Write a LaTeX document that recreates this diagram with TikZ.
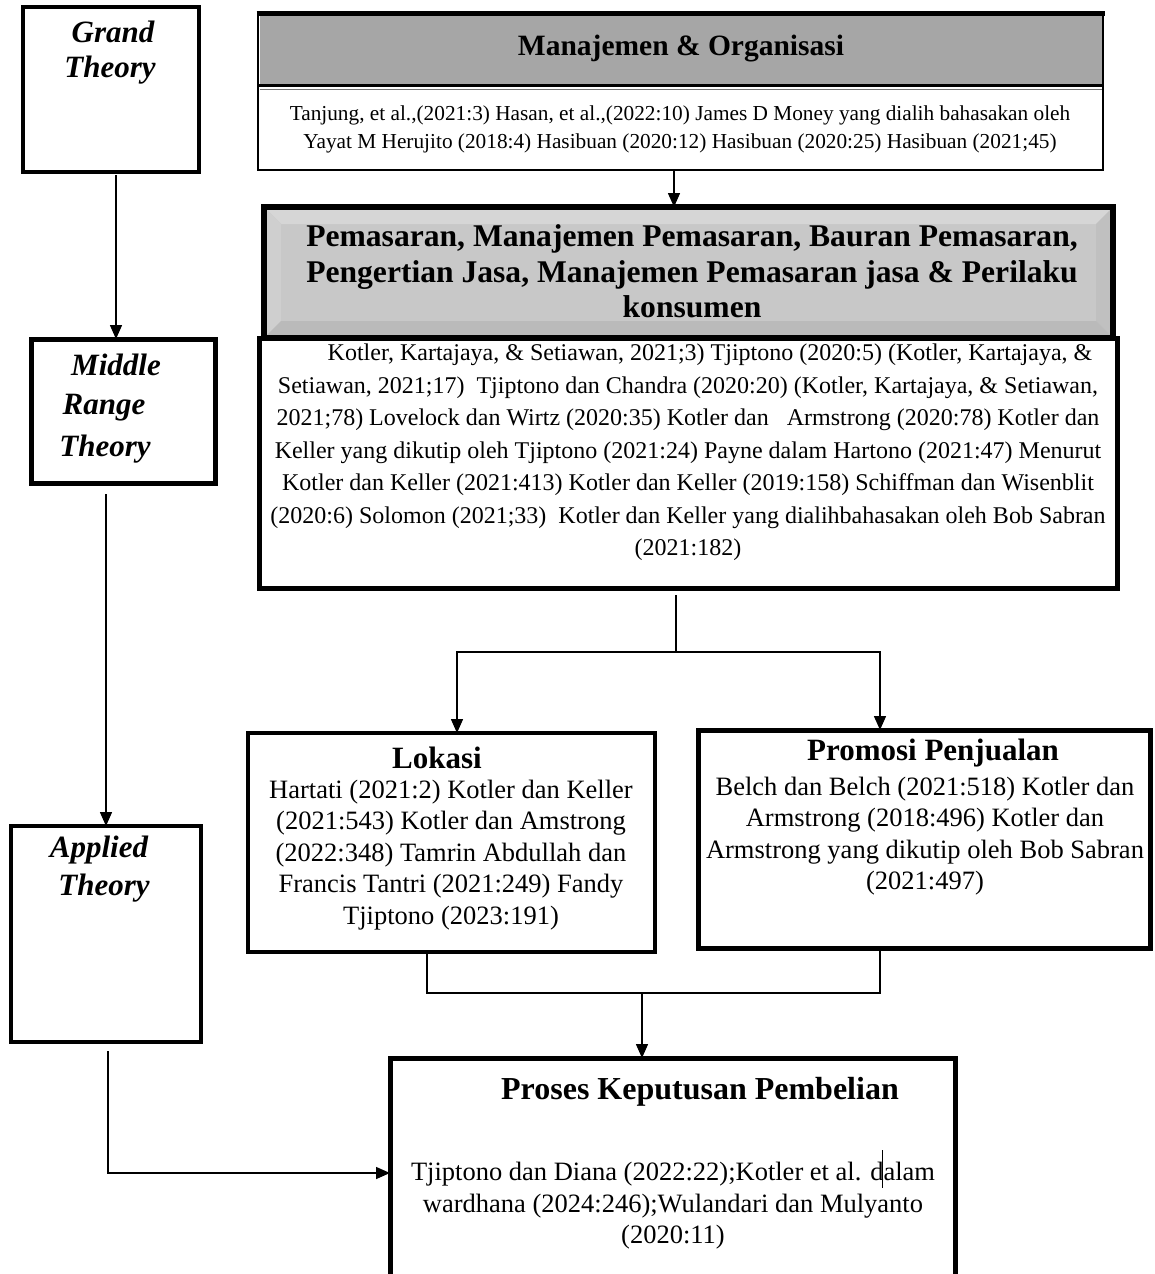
\documentclass[tikz,border=0pt]{standalone}
\usepackage{fontspec}
\setmainfont{Liberation Serif}
\usetikzlibrary{arrows.meta,calc}
\definecolor{bandgray}{HTML}{A6A6A6}
\definecolor{bevmid}{HTML}{C8C8C8}
\definecolor{bevtop}{HTML}{D6D6D6}
\definecolor{bevleft}{HTML}{CFCFCF}
\definecolor{bevright}{HTML}{C0C0C0}
\definecolor{bevbot}{HTML}{BABABA}
\begin{document}
\begin{tikzpicture}[x=1pt,y=-1pt,
  box/.style={draw, inner sep=0pt, outer sep=0pt, fill=white},
  conn/.style={line width=1.5pt},
  arr/.style={conn, -{Triangle[length=14pt,width=12pt]}},
  ttl/.style={font=\fontsize{31}{36}\selectfont\bfseries\itshape, inner sep=0pt},
  head/.style={font=\fontsize{31}{35.5}\selectfont\bfseries, inner sep=0pt, align=center},
  body/.style={font=\fontsize{26.5}{31.5}\selectfont, inner sep=0pt, align=center},
]
\useasboundingbox (0,0) rectangle (1155,1274);
\clip (0,0) rectangle (1155,1274);
\fill[white] (0,0) rectangle (1155,1274);

% ---------- left column ----------
\node[box, line width=4pt, minimum width=176pt, minimum height=165pt] (grand) at (111,89.5) {};
\node[ttl] (tg1) at (113,32) {Grand};
\node[ttl] (tg2) at (110,70) {Theory};

\node[box, line width=5pt, minimum width=184pt, minimum height=144pt] (midr) at (123,411) {};
\node[ttl] (tm1) at (116,365) {Middle};
\node[ttl] (tm2) at (104,408) {Range};
\node[ttl] (tm3) at (105,449) {Theory};

\node[box, line width=4pt, minimum width=190pt, minimum height=216pt] (appl) at (106,934) {};
\node[ttl] (ta1) at (99,850) {Applied};
\node[ttl] (ta2) at (104,888) {Theory};

% ---------- top box ----------
\node[box, line width=2.5pt, minimum width=845pt, minimum height=158pt] (manaj) at (680.5,91) {};
\fill[bandgray] (259.5,14) rectangle (1101.5,85);
\draw[line width=5pt] (256.5,13) -- (1104.5,13);
\draw[line width=2.5pt] (258,85.5) -- (1103,85.5);
\draw[line width=1.5pt, black!55] (259.5,89.5) -- (1101.5,89.5);
\node[head, font=\fontsize{29.5}{34}\selectfont\bfseries] (tmanajh) at (681,49) {Manajemen \& Organisasi};
\node[body, font=\fontsize{21.3}{28}\selectfont] (tmanajb) at (680,129)
  {Tanjung, et al.,(2021:3) Hasan, et al.,(2022:10) James D Money yang dialih bahasakan oleh\\
   Yayat M Herujito (2018:4) Hasibuan (2020:12) Hasibuan (2020:25) Hasibuan (2021;45)};

% ---------- second header ----------
\node[box, line width=6pt, fill=bevmid, minimum width=849pt, minimum height=131pt] (pemhead) at (688.5,272.5) {};
\fill[bevtop]   (267,210) -- (1110,210) -- (1096,224) -- (281,224) -- cycle;
\fill[bevleft]  (267,210) -- (281,224) -- (281,321) -- (267,335) -- cycle;
\fill[bevright] (1110,210) -- (1096,224) -- (1096,321) -- (1110,335) -- cycle;
\fill[bevbot]   (267,335) -- (281,321) -- (1096,321) -- (1110,335) -- cycle;
\draw[line width=6pt] (pemhead.north west) rectangle (pemhead.south east);
\node[head, font=\fontsize{31.6}{35.5}\selectfont\bfseries] (tpemh) at (692,271.5)
  {Pemasaran, Manajemen Pemasaran, Bauran Pemasaran,\\
   Pengertian Jasa, Manajemen Pemasaran jasa \& Perilaku\\
   konsumen};

\node[box, line width=5pt, minimum width=858pt, minimum height=250pt] (pembody) at (688,463) {};
\node[body, font=\fontsize{24}{32.5}\selectfont] (tpemb) at (688,452.5)
  {\hspace*{44pt}Kotler, Kartajaya, \& Setiawan, 2021;3) Tjiptono (2020:5) (Kotler, Kartajaya, \&\\
   Setiawan, 2021;17)\ \ Tjiptono dan Chandra (2020:20) (Kotler, Kartajaya, \& Setiawan,\\
   2021;78) Lovelock dan Wirtz (2020:35) Kotler dan\hspace{12pt} Armstrong (2020:78) Kotler dan\\
   Keller yang dikutip oleh Tjiptono (2021:24) Payne dalam Hartono (2021:47) Menurut\\
   Kotler dan Keller (2021:413) Kotler dan Keller (2019:158) Schiffman dan Wisenblit\\
   (2020:6) Solomon (2021;33)\ \ Kotler dan Keller yang dialihbahasakan oleh Bob Sabran\\
   (2021:182)};

% ---------- Lokasi / Promosi ----------
\node[box, line width=4.5pt, minimum width=407pt, minimum height=219pt] (lokasi) at (451.5,842.5) {};
\node[head] (tlokh) at (437,758) {Lokasi};
\node[body] (tlokb) at (451,855)
  {Hartati (2021:2) Kotler dan Keller\\
   (2021:543) Kotler dan Amstrong\\
   (2022:348) Tamrin Abdullah dan\\
   Francis Tantri (2021:249) Fandy\\
   Tjiptono (2023:191)};

\node[box, line width=5pt, minimum width=452pt, minimum height=218pt] (promosi) at (924,839) {};
\node[head] (tproh) at (933,753) {Promosi Penjualan};
\node[body] (tprob) at (925,836)
  {Belch dan Belch (2021:518) Kotler dan\\
   Armstrong (2018:496) Kotler dan\\
   Armstrong yang dikutip oleh Bob Sabran\\
   (2021:497)};

% ---------- bottom box ----------
\node[box, line width=5pt, minimum width=565pt, minimum height=230pt] (proses) at (672.5,1173) {};
\node[head, font=\fontsize{32}{36}\selectfont\bfseries] (tprosh) at (700,1092) {Proses Keputusan Pembelian};
\node[body] (tprosb) at (673,1206)
  {Tjiptono dan Diana (2022:22);Kotler et al. dalam\\
   wardhana (2024:246);Wulandari dan Mulyanto\\
   (2020:11)};
\coordinate (cur1) at (882,1150);
\coordinate (cur2) at (882,1188);
\draw[line width=1pt] (cur1) -- (cur2);

% ---------- connectors ----------
\draw[arr] ([xshift=5pt,yshift=-3pt]grand.south) -- ([xshift=5pt]grand.south |- midr.north);
\draw[arr] ([xshift=-17pt,yshift=-11pt]midr.south) -- ([xshift=-17pt]midr.south |- appl.north);
\draw[arr] ([xshift=2pt,yshift=-9pt]appl.south) |- (proses.west);
\draw[arr] ([xshift=-6.5pt]manaj.south) -- ([xshift=-6.5pt]manaj.south |- pemhead.north);

\coordinate (split) at (676,652);
\draw[conn] ([yshift=-7pt]pembody.south -| split) -- (split);
\draw[arr] (split) -| ([xshift=5.5pt]lokasi.north);
\draw[arr] (split) -| ([xshift=-44pt]promosi.north);

\coordinate (merge) at (642,993);
\draw[conn] ([xshift=-24.5pt]lokasi.south) |- (merge) -| ([xshift=-44pt]promosi.south);
\draw[arr] (merge) -- (merge |- proses.north);
\end{tikzpicture}
\end{document}
